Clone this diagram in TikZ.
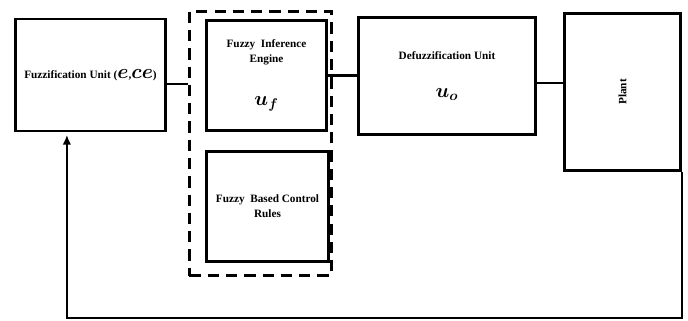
\documentclass[tikz,border=0pt]{standalone}
\usepackage{fontspec}
\usepackage{bm}
\setmainfont{Liberation Serif}
\usetikzlibrary{arrows.meta,calc,positioning}
\newcommand{\bigmath}[1]{{\fontsize{14}{15}\selectfont$\bm{#1}$}}
\tikzset{
  blk/.style n args={2}{draw, line width=2pt, align=center, inner sep=2pt,
        font=\fontsize{8}{10.5}\selectfont\bfseries, minimum width=#1, minimum height=#2},
  grp/.style n args={2}{draw, line width=2pt, dash pattern=on 8pt off 5pt,
        minimum width=#1, minimum height=#2},
  link/.style={line width=1.8pt},
  fback/.style={-{Latex[length=7pt,width=6pt]}, line width=1.3pt},
}
\begin{document}
\begin{tikzpicture}[x=0.025cm, y=-0.025cm]
  \useasboundingbox (0,0) rectangle (688,321);
  \node[blk={3.75cm}{2.8cm}] (fuzz) at (90.5,75)
    {Fuzzification Unit (\bigmath{e},\bigmath{ce})};
  \node[grp={3.55cm}{6.6cm}] (eng) at (260.5,143.5) {};
  \node[blk={3.0cm}{2.75cm}] (inf) at (266.5,75.5)
    {Fuzzy\ \ Inference\\Engine\\[20pt]\bigmath{u_f}};
  \node[blk={3.05cm}{2.75cm}] (rules) at (267.5,206.5)
    {Fuzzy\ \ Based Control\\Rules};
  \node[blk={4.425cm}{2.925cm}] (defuzz) at (447,76)
    {Defuzzification Unit\\[17pt]\bigmath{u_o}};
  \node[blk={2.9cm}{3.925cm}] (plant) at (622.5,92) {\rotatebox{90}{Plant}};
  \coordinate (fbk) at (plant.south east |- 0,318);
  \draw[link] ([yshift=-0.22cm]fuzz.east) -- ([yshift=-0.22cm]fuzz.east -| eng.west);
  \draw[link] (inf.east) -- (inf.east -| defuzz.west);
  \draw[link] ([yshift=-0.18cm]defuzz.east) -- ([yshift=-0.18cm]defuzz.east -| plant.west);
  \draw[fback] (plant.south east) -- (fbk) -| ([xshift=-0.59cm,yshift=-0.06cm]fuzz.south);
\end{tikzpicture}
\end{document}
